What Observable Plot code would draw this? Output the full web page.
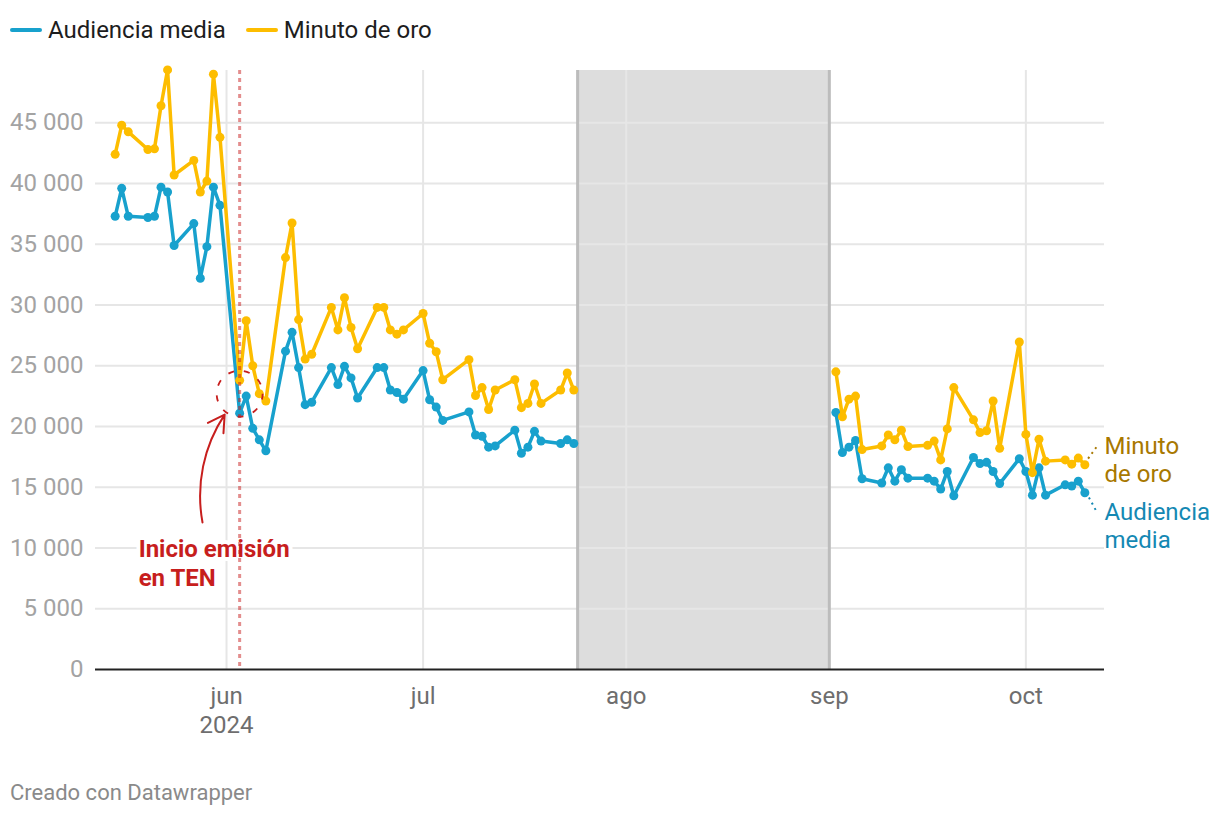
<!DOCTYPE html>
<html><head><meta charset="utf-8">
<script src="https://cdn.jsdelivr.net/npm/d3@7"></script>
<script src="https://cdn.jsdelivr.net/npm/@observablehq/plot@0.6"></script>
<style>
body{margin:0;background:#fff;font-family:Roboto,sans-serif;width:1220px;height:816px;position:relative;overflow:hidden}
#legend{position:absolute;left:10px;top:14px;height:32px;display:flex;align-items:center;font-size:24px;color:#1d1d1d;gap:20px}
.item{display:flex;align-items:center}
.sw{display:inline-block;width:32px;height:4px;border-radius:2px;margin-right:6px}
#chart{position:absolute;left:0;top:60px}
#footer{position:absolute;left:10px;top:780px;font-size:22px;line-height:26px;color:#8a8a8a}
</style></head><body>
<div id="legend"></div>
<div id="chart"></div>
<div id="footer">Creado con Datawrapper</div>
<script>
const seriesNames = ["Audiencia media", "Minuto de oro"];
const seriesColors = ["#18a1cd", "#fdbd00"];
const labelColors = ["#a87800", "#1488b3"];

const dates = [
  "2024-05-15","2024-05-16","2024-05-17","2024-05-20","2024-05-21","2024-05-22","2024-05-23","2024-05-24","2024-05-27","2024-05-28","2024-05-29","2024-05-30","2024-05-31",
  "2024-06-03","2024-06-04","2024-06-05","2024-06-06","2024-06-07","2024-06-10","2024-06-11","2024-06-12","2024-06-13","2024-06-14","2024-06-17","2024-06-18","2024-06-19","2024-06-20","2024-06-21","2024-06-24","2024-06-25","2024-06-26","2024-06-27","2024-06-28",
  "2024-07-01","2024-07-02","2024-07-03","2024-07-04","2024-07-08","2024-07-09","2024-07-10","2024-07-11","2024-07-12","2024-07-15","2024-07-16","2024-07-17","2024-07-18","2024-07-19","2024-07-22","2024-07-23","2024-07-24",
  "2024-09-02","2024-09-03","2024-09-04","2024-09-05","2024-09-06","2024-09-09","2024-09-10","2024-09-11","2024-09-12","2024-09-13","2024-09-16","2024-09-17","2024-09-18","2024-09-19","2024-09-20","2024-09-23","2024-09-24","2024-09-25","2024-09-26","2024-09-27","2024-09-30",
  "2024-10-01","2024-10-02","2024-10-03","2024-10-04","2024-10-07","2024-10-08","2024-10-09","2024-10-10"
];
const audiencia = [
  37300,39600,37300,37200,37300,39700,39300,34900,36700,32200,34800,39700,38200,
  21100,22500,19850,18900,18000,26200,27750,24850,21800,22000,24850,23450,24950,24000,22350,24850,24850,23000,22800,22250,
  24600,22200,21600,20500,21200,19300,19200,18300,18400,19700,17800,18300,19600,18800,18600,18900,18600,
  21150,17850,18300,18850,15700,15350,16600,15500,16450,15750,15750,15500,14850,16300,14300,17450,16950,17050,16300,15300,17350,
  16300,14350,16600,14350,15200,15100,15500,14550
];
const minuto = [
  42400,44800,44250,42800,42850,46400,49350,40700,41900,39300,40200,49000,43800,
  23800,28700,25000,22700,22100,33900,36750,28800,25550,25950,29800,27950,30600,28150,26400,29800,29800,27950,27600,27950,
  29300,26850,26150,23850,25500,22550,23200,21400,23000,23850,21550,21900,23500,21900,23000,24400,23000,
  24500,20800,22250,22500,18100,18400,19300,18900,19700,18350,18450,18800,17250,19800,23200,20550,19500,19650,22100,18200,26950,
  19350,16200,18950,17150,17250,16900,17400,16850
];
const yTicks = [0,5000,10000,15000,20000,25000,30000,35000,40000,45000];
const monthTicks = ["2024-06-01","2024-07-01","2024-08-01","2024-09-01","2024-10-01"];
const monthLabels = ["jun\n2024","jul","ago","sep","oct"];
const xDomain = ["2024-05-12","2024-10-13"];
const yMax = 49300;
const band = {start:"2024-07-24T14:00", end:"2024-09-01"};
const tenDate = "2024-06-03";
const annText = "Inicio emisión\nen TEN";
const annTextPos = {x:"2024-05-18T14:00", y:8850};
const annArrow = {x1:"2024-05-28T08:00", y1:12100, x2:"2024-05-31T17:00", y2:20980};
const annCircle = {x:"2024-06-03", y:22700};
const endLabels = [
  {text:"Minuto\nde oro", x:"2024-10-13", y:17300, from:{x:"2024-10-10T12:00", y:17360}, to:{x:"2024-10-11T20:00", y:18350}},
  {text:"Audiencia\nmedia", x:"2024-10-13", y:11900, from:{x:"2024-10-10T15:00", y:14150}, to:{x:"2024-10-11T17:00", y:13080}}
];

const D = s => new Date(s.length === 10 ? s + "T00:00:00Z" : s + ":00Z");

const leg = document.getElementById("legend");
seriesNames.forEach((n,i)=>{
  const it = document.createElement("div"); it.className="item";
  it.innerHTML = `<span class="sw" style="background:${seriesColors[i]}"></span><span>${n}</span>`;
  leg.appendChild(it);
});

const rows = [];
dates.forEach((d,i)=>{
  const dt = D(d);
  const seg = dt < D("2024-08-01") ? "a" : "b";
  rows.push({date:dt, value:audiencia[i], series:seriesNames[0], seg});
  rows.push({date:dt, value:minuto[i], series:seriesNames[1], seg});
});
const tickMap = new Map(monthTicks.map((t,i)=>[+D(t), monthLabels[i]]));
const fmtY = v => v === 0 ? "0" : d3.format(",")(v).replace(",", " ");
const red = "#c71e1d";
const lc = d => labelColors[endLabels.indexOf(d)];

const chart = Plot.plot({
  width:1220, height:680,
  marginLeft:95, marginRight:116, marginTop:10, marginBottom:71,
  style:{fontFamily:"Roboto, sans-serif", background:"transparent", overflow:"visible"},
  x:{type:"utc", domain:xDomain.map(D)},
  y:{domain:[0,yMax]},
  marks:[
    Plot.rect([band], {x1:d=>D(d.start), x2:d=>D(d.end), fill:"#dddddd"}),
    Plot.ruleY(yTicks.slice(1), {stroke:"#e6e6e6", strokeWidth:2}),
    Plot.ruleX(monthTicks.map(D), {stroke:"#e6e6e6", strokeWidth:2}),
    Plot.ruleX([band.start, band.end].map(D), {stroke:"#bcbcbc", strokeWidth:3}),
    Plot.text([annText], {x:D(annTextPos.x), y:annTextPos.y, text:d=>d, textAnchor:"start", lineAnchor:"middle", fill:red, fontWeight:"bold", fontSize:24, lineHeight:1.2, stroke:"white", strokeWidth:8, paintOrder:"stroke"}),
    Plot.ruleY([0], {stroke:"#222", strokeWidth:2}),
    Plot.line(rows.filter(r=>r.series===seriesNames[0]), {x:"date", y:"value", z:"seg", stroke:seriesColors[0], strokeWidth:3.5, strokeLinejoin:"round"}),
    Plot.dot(rows.filter(r=>r.series===seriesNames[0]), {x:"date", y:"value", r:4.5, fill:seriesColors[0]}),
    Plot.line(rows.filter(r=>r.series===seriesNames[1]), {x:"date", y:"value", z:"seg", stroke:seriesColors[1], strokeWidth:3.5, strokeLinejoin:"round"}),
    Plot.dot(rows.filter(r=>r.series===seriesNames[1]), {x:"date", y:"value", r:4.5, fill:seriesColors[1]}),
    Plot.ruleX([D(tenDate)], {stroke:red, strokeOpacity:0.5, strokeWidth:3, strokeDasharray:"4,4"}),
    Plot.dot([annCircle], {x:d=>D(d.x), y:"y", r:23, stroke:red, strokeWidth:1.8, strokeDasharray:"6,10", fill:"none"}),
    Plot.arrow([annArrow], {x1:d=>D(d.x1), y1:"y1", x2:d=>D(d.x2), y2:"y2", bend:22, stroke:red, strokeWidth:2, headLength:14}),
    Plot.link(endLabels, {x1:d=>D(d.from.x), y1:d=>d.from.y, x2:d=>D(d.to.x), y2:d=>d.to.y, stroke:lc, strokeWidth:2, strokeDasharray:"2,4"}),
    Plot.text(endLabels, {x:d=>D(d.x), y:"y", text:"text", textAnchor:"start", lineAnchor:"middle", fill:lc, fontSize:24, lineHeight:1.17}),
    Plot.axisY(yTicks, {tickSize:0, tickPadding:12, fontSize:24, tickFormat:fmtY, color:"#a3a3a3", label:null}),
    Plot.axisX(monthTicks.map(D), {tickSize:0, tickPadding:14, fontSize:24, tickFormat:d=>tickMap.get(+d), color:"#6e6e6e", lineHeight:1.2, label:null})
  ]
});
document.getElementById("chart").appendChild(chart);
</script>
</body></html>
